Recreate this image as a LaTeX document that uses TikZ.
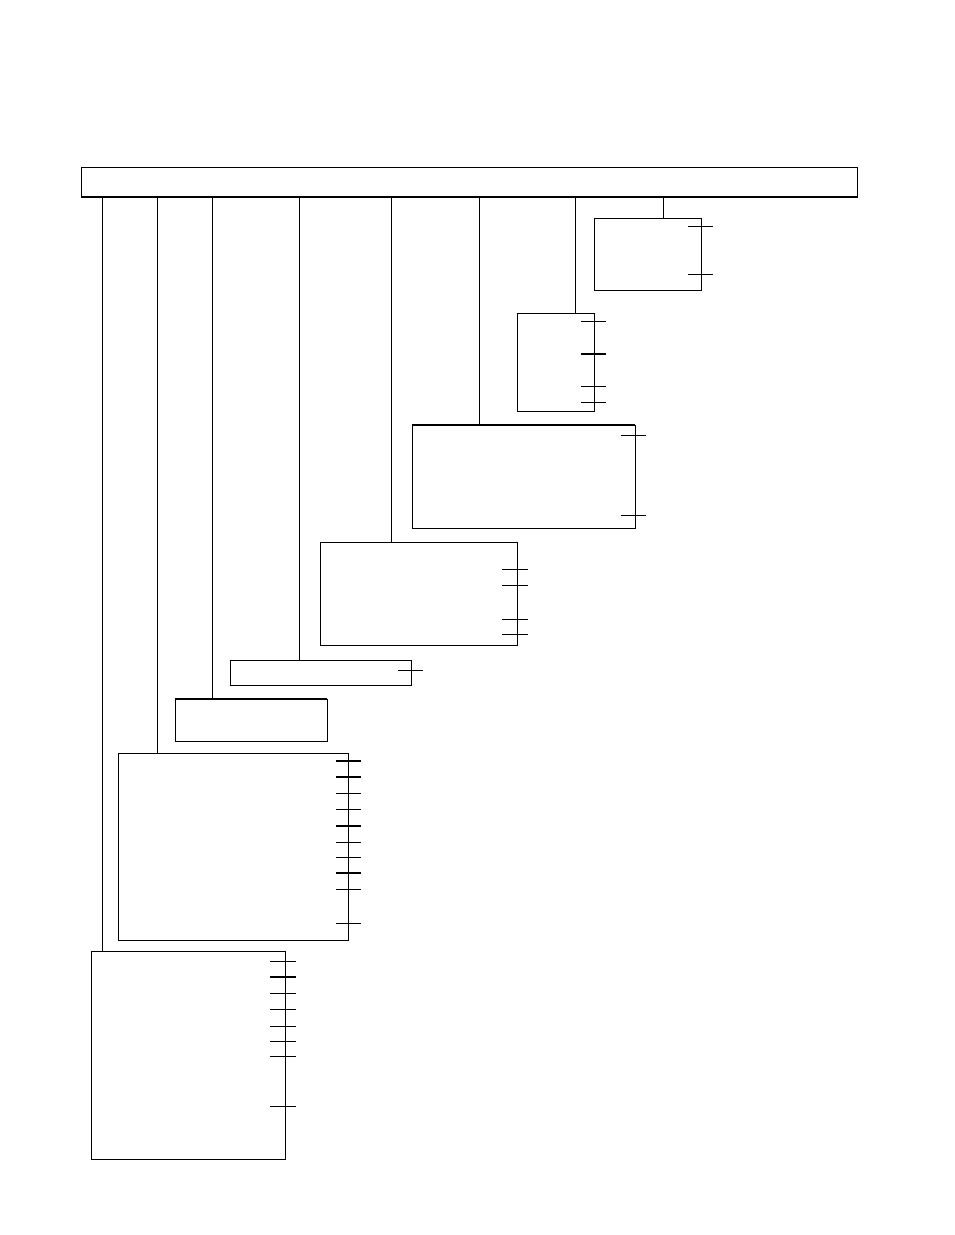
\documentclass[tikz,border=0pt]{standalone}
\usepackage{tikz}
\usetikzlibrary{positioning, calc}

\begin{document}
\begin{tikzpicture}[
		x=1pt, y=-1pt,
		box/.style={
			draw,
			line width=0.9pt,
			inner sep=0pt,
			outer sep=0pt,
			anchor=north west
		},
		link/.style={line width=0.9pt},
		heavy/.style={line width=2pt},
		tick/.style={line width=0.9pt},
		tickbold/.style={line width=1.8pt}
	]
	\useasboundingbox (0,0) rectangle (954,1235);
	
	% header bar
	\node[box,minimum width=776pt,minimum height=30pt] (head) at (81,167) {};
	\draw[heavy] (head.south west) -- (head.south east);
	
	% boxes
	\node[box,minimum width=107pt,minimum height=72pt] (boxA) at (594,218) {};
	\node[box,minimum width=77pt,minimum height=98pt] (boxB) at (517,313) {};
	\node[box,minimum width=223pt,minimum height=103pt] (boxC) at (412,425) {};
	\node[box,minimum width=197pt,minimum height=103pt] (boxD) at (320,542) {};
	\node[box,minimum width=181pt,minimum height=25pt] (boxE) at (230,660) {};
	\node[box,minimum width=152pt,minimum height=42pt] (boxF) at (175,699) {};
	\node[box,minimum width=230pt,minimum height=187pt] (boxG) at (118,753) {};
	\node[box,minimum width=194pt,minimum height=208pt] (boxH) at (91,951) {};
	\draw[heavy] (boxC.north west) -- (boxC.north east);
	\draw[line width=1.5pt] (boxF.north west) -- (boxF.north east);
	
	% drops from the header
	\coordinate (dA) at (663,197);
	\coordinate (dB) at (575,197);
	\coordinate (dC) at (479,197);
	\coordinate (dD) at (391,197);
	\coordinate (dE) at (299,197);
	\coordinate (dF) at (212,197);
	\coordinate (dG) at (157,197);
	\coordinate (dH) at (102,197);
	\foreach \b in {A,B,C,D,E,F,G,H}
		\draw[link] (d\b) -- (d\b |- box\b.north);
	
	% ticks on the right sides
	\foreach \y in {8,56}
		\draw[tick] (boxA.north east) ++(-13,\y) -- ++(25,0);
	\foreach \y in {8,73,89}
		\draw[tick] (boxB.north east) ++(-13,\y) -- ++(25,0);
	\draw[tickbold] (boxB.north east) ++(-13,41) -- ++(25,0);
	\foreach \y in {10,90}
		\draw[tick] (boxC.north east) ++(-14,\y) -- ++(25,0);
	\foreach \y in {27,43,77,92}
		\draw[tick] (boxD.north east) ++(-15,\y) -- ++(26,0);
	\draw[tick] (boxE.north east) ++(-13,10) -- ++(25,0);
	\foreach \y in {40,56,89,104,136,170}
		\draw[tick] (boxG.north east) ++(-12,\y) -- ++(25,0);
	\foreach \y in {8,24,73,120}
		\draw[tickbold] (boxG.north east) ++(-12,\y) -- ++(25,0);
	\foreach \y in {10,42,58,75,90,105,155}
		\draw[tick] (boxH.north east) ++(-15,\y) -- ++(26,0);
	\draw[tickbold] (boxH.north east) ++(-15,26) -- ++(26,0);
	
\end{tikzpicture}
\end{document}
